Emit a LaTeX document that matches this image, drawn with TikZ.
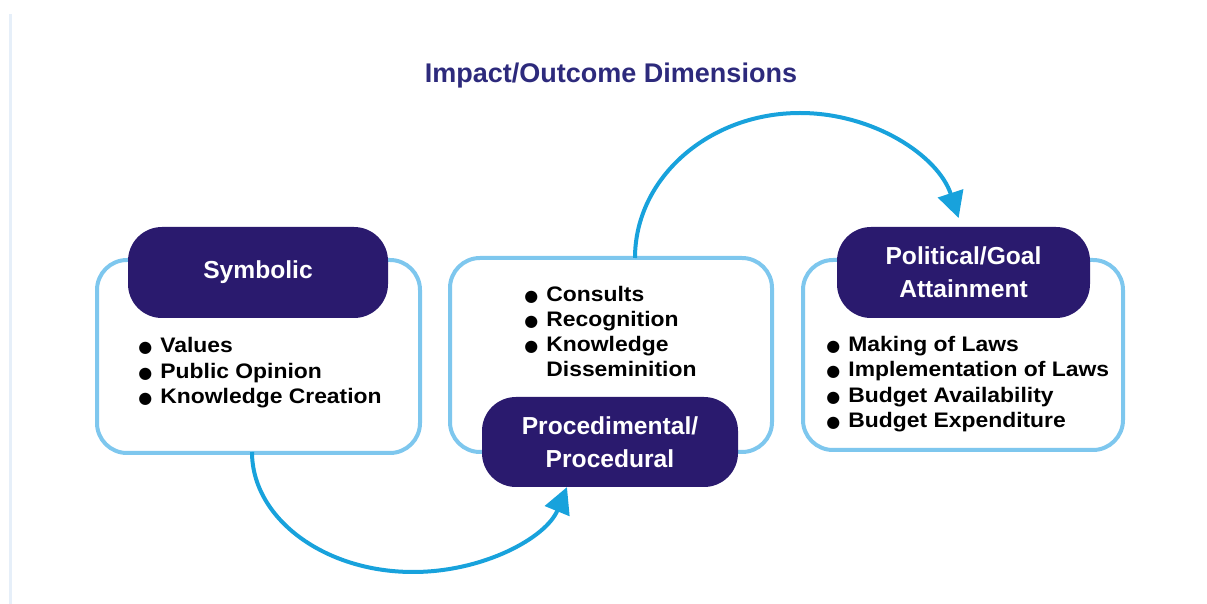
\documentclass[tikz,border=0pt]{standalone}
\usepackage{fontspec}
\setmainfont{Liberation Sans}
\newfontfamily\bodyfont[FakeStretch=1.09]{Liberation Sans}
\newfontfamily\dotfont{DejaVu Sans}
\usetikzlibrary{arrows.meta}

\definecolor{headnavy}{HTML}{2A1A6E}
\definecolor{titlenavy}{HTML}{2D2A7C}
\definecolor{boxblue}{HTML}{7EC7EE}
\definecolor{flowblue}{HTML}{18A2DC}
\definecolor{railblue}{HTML}{E6EFF9}

% bullet glyph in a fixed-width box
\newcommand{\bul}{\makebox[11pt][l]{\dotfont\fontsize{8}{8}\selectfont ●}}
\newcommand{\nobul}{\makebox[11pt][l]{}}

\begin{document}
\begin{tikzpicture}[x=0.5pt,y=-0.5pt,
  panel/.style={draw=boxblue, line width=2pt, rounded corners=15pt, fill=white, inner sep=0pt},
  header/.style={fill=headnavy, rounded corners=17pt, text=white, align=center, inner sep=0pt,
    font=\fontsize{12.3}{16.5}\selectfont\bfseries},
  item/.style={anchor=base west, inner sep=0pt, font=\bodyfont\bfseries\fontsize{10.5}{12.75}\selectfont},
  flow/.style={draw=flowblue, line width=2pt, -{Triangle[length=13pt,width=13pt]}},
  title/.style={anchor=base, inner sep=0pt, text=titlenavy, font=\fontsize{13.5}{16}\selectfont\bfseries}
]
\useasboundingbox (0,0) rectangle (1207,604);

% faint rail on the left edge
\fill[railblue] (9,14) rectangle (12,604);

\node[title] (title) at (611,83) {Impact/Outcome Dimensions};

% outlined panels
\node[panel, minimum width=161.5pt, minimum height=96.5pt] (box1) at (258.5,356.5) {};
\node[panel, minimum width=161pt, minimum height=97pt] (box2) at (611,355) {};
\node[panel, minimum width=160pt, minimum height=95pt] (box3) at (963,355) {};

% connectors between the panels
\coordinate (out1) at (252,452);
\coordinate (out2) at (635,258);
\draw[flow] (out1) arc[start angle=180, end angle=17, x radius=161, y radius=120];
\draw[flow] (out2) arc[start angle=180, end angle=344, x radius=165, y radius=145];

% dark headers
\node[header, minimum width=130pt, minimum height=45.5pt] (h1) at (258,272.5) {Symbolic};
\node[header, minimum width=128pt, minimum height=45pt] (h2) at (610,442) {Procedimental/\\Procedural};
\node[header, minimum width=126.5pt, minimum height=45.5pt] (h3) at (963.5,272.5) {Political/Goal\\Attainment};

% bullet lists
\node[item] (s1) at (138,353)   {\bul Values};
\node[item] (s2) at (138,378.5) {\bul Public Opinion};
\node[item] (s3) at (138,404)   {\bul Knowledge Creation};

\node[item] (p1) at (524,302) {\bul Consults};
\node[item] (p2) at (524,327) {\bul Recognition};
\node[item] (p3) at (524,352) {\bul Knowledge};
\node[item] (p4) at (524,377) {\nobul Disseminition};

\node[item] (g1) at (826,352) {\bul Making of Laws};
\node[item] (g2) at (826,377) {\bul Implementation of Laws};
\node[item] (g3) at (826,403) {\bul Budget Availability};
\node[item] (g4) at (826,428) {\bul Budget Expenditure};
\end{tikzpicture}
\end{document}
